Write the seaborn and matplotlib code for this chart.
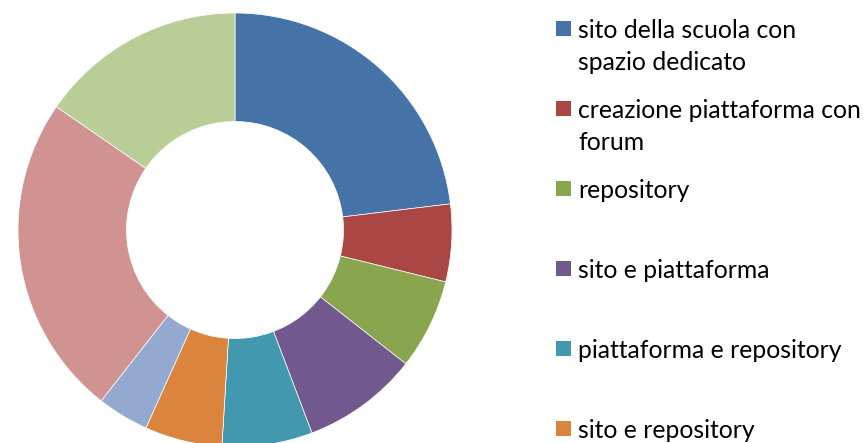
import matplotlib
matplotlib.use("Agg")
import matplotlib.pyplot as plt
import seaborn as sns
from matplotlib.patches import Rectangle

categorie = ['sito della scuola con\nspazio dedicato',
             'creazione piattaforma con\nforum',
             'repository',
             'sito e piattaforma',
             'piattaforma e repository',
             'sito e repository',
             'altro 1', 'altro 2', 'altro 3']
valori = [24, 6, 7, 9, 7, 6, 4, 25, 16]
colori = ['#4572A7', '#AA4643', '#89A54E', '#71588F', '#4198AF',
          '#DB843D', '#93A9CF', '#D19392', '#B9CD96']
n_legenda = 6  # the legend is cut off after six entries

sns.set_style("white")
plt.rcParams['font.family'] = ['Lato', 'DejaVu Sans']
palette = sns.color_palette(colori)

W, H = 865, 443
fig = plt.figure(figsize=(W / 100, H / 100), dpi=100)

cx, cy, R = 235, 230, 217
ax = fig.add_axes([(cx - R) / W, (H - cy - R) / H, 2 * R / W, 2 * R / H])
ax.pie(valori, colors=palette, startangle=90, counterclock=False, radius=1,
       wedgeprops=dict(width=0.5, edgecolor='white', linewidth=0.5))
ax.set_xlim(-1, 1)
ax.set_ylim(-1, 1)
ax.set_aspect('equal')
ax.axis('off')

# legend, drawn by hand so that every entry keeps the same step
for i in range(n_legenda):
    yc = 28.5 + 80 * i
    fig.patches.append(Rectangle((556 / W, 1 - (yc + 7.5) / H), 15 / W, 15 / H,
                                 transform=fig.transFigure, color=palette[i],
                                 linewidth=0))
    fig.text(578 / W, 1 - (yc - 10) / H, categorie[i], fontsize=17.8,
             color='black', va='top', ha='left', linespacing=1.5)

fig.savefig('out.png', dpi=100)
